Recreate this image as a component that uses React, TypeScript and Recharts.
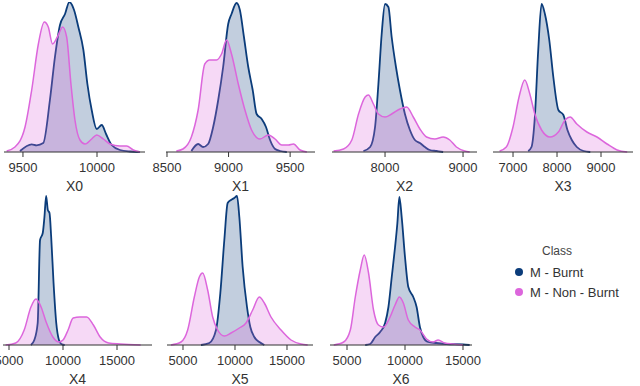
import { AreaChart, Area, XAxis, YAxis } from "recharts";

// density curves: [value, density]
const x0Burnt = [
  [9480, 1], [9559, 7.7], [9592, 6.7], [9637, 9], [9682, 52], [9716, 95], [9750, 127],
  [9784, 138], [9813, 150], [9845, 142], [9874, 125], [9908, 102], [9935, 68], [9964, 42],
  [9998, 23], [10032, 27], [10061, 18], [10099, 7], [10155, 2], [10223, 0.5], [10290, 0],
];
const x0NonBurnt = [
  [9390, 1], [9446, 5], [9514, 25], [9559, 62], [9604, 108], [9644, 130], [9671, 125],
  [9700, 108], [9732, 115], [9768, 125], [9795, 115], [9824, 68], [9851, 32], [9885, 12],
  [9919, 8], [9964, 13], [9998, 17], [10043, 13], [10088, 8], [10155, 6], [10200, 6],
  [10245, 2], [10290, 0],
];

const x1Burnt = [
  [8698, 1], [8753, 8], [8793, 5], [8834, 8], [8875, 25], [8916, 52], [8956, 85],
  [8997, 128], [9024, 138], [9065, 149], [9092, 142], [9125, 115], [9160, 85], [9196, 62],
  [9228, 38], [9269, 33], [9304, 25], [9337, 12], [9378, 3], [9418, 1], [9473, 0],
];
const x1NonBurnt = [
  [8576, 1], [8630, 3], [8698, 15], [8753, 42], [8807, 88], [8848, 92], [8902, 92],
  [8943, 98], [8984, 112], [9024, 98], [9079, 68], [9133, 42], [9187, 22], [9255, 13],
  [9323, 17], [9378, 13], [9432, 7], [9486, 7], [9527, 8], [9581, 2], [9636, 0],
];

const x2Burnt = [
  [7723, 1], [7809, 5], [7872, 25], [7915, 68], [7957, 118], [8000, 148], [8043, 145],
  [8085, 115], [8140, 85], [8191, 62], [8255, 38], [8319, 22], [8383, 12], [8447, 9],
  [8511, 5], [8574, 2], [8660, 1], [8745, 0],
];
const x2NonBurnt = [
  [7340, 1], [7468, 3], [7574, 12], [7660, 38], [7745, 55], [7787, 57], [7851, 48],
  [7915, 38], [8000, 35], [8085, 38], [8191, 43], [8277, 45], [8362, 35], [8447, 23],
  [8532, 15], [8638, 13], [8745, 15], [8830, 12], [8915, 5], [9021, 1], [9085, 0],
];

const x3Burnt = [
  [7344, 1], [7420, 5], [7496, 35], [7573, 102], [7649, 148], [7725, 138], [7824, 112],
  [7916, 75], [8031, 42], [8145, 37], [8237, 22], [8336, 12], [8450, 5], [8603, 1], [8756, 0],
];
const x3NonBurnt = [
  [6695, 1], [6847, 5], [7000, 25], [7137, 55], [7267, 72], [7382, 58], [7496, 38],
  [7649, 22], [7840, 15], [8031, 20], [8183, 32], [8298, 35], [8450, 28], [8679, 20],
  [8908, 15], [9137, 8], [9366, 2], [9595, 0],
];

const x4Burnt = [
  [7031, 0], [7344, 5], [7656, 22], [7875, 105], [8125, 112], [8281, 128], [8438, 149],
  [8594, 135], [8750, 132], [8906, 108], [9125, 62], [9375, 22], [9625, 5], [9844, 1], [10156, 0],
];
const x4NonBurnt = [
  [4688, 0], [5625, 2], [6406, 15], [7031, 38], [7500, 46], [7969, 38], [8438, 23],
  [9063, 8], [9625, 3], [10000, 5], [10469, 15], [10938, 27], [11563, 28], [12188, 28],
  [12813, 20], [13438, 8], [14219, 2], [15313, 1], [17188, 0],
];

const x5Burnt = [
  [6731, 0], [7532, 2], [8173, 15], [8590, 52], [8974, 105], [9295, 142], [9615, 145],
  [9936, 147], [10192, 149], [10417, 128], [10737, 78], [11154, 38], [11474, 18],
  [11859, 8], [12340, 3], [12820, 0],
];
const x5NonBurnt = [
  [3846, 0], [4808, 3], [5449, 15], [6090, 48], [6571, 68], [6891, 72], [7372, 55],
  [7853, 28], [8333, 15], [8974, 9], [9615, 12], [10417, 17], [11058, 22], [11699, 35],
  [12340, 48], [12820, 42], [13461, 28], [14423, 15], [15384, 5], [16346, 1], [16987, 0],
];

const x6Burnt = [
  [6572, 0], [7000, 1], [7429, 8], [7857, 13], [8286, 22], [8571, 38], [8857, 68],
  [9143, 98], [9343, 122], [9514, 148], [9714, 128], [10000, 88], [10286, 58], [10714, 48],
  [11000, 38], [11286, 18], [11571, 8], [12000, 3], [12714, 2], [13571, 1], [15000, 0.5], [15571, 0],
];
const x6NonBurnt = [
  [3857, 0], [4714, 3], [5286, 15], [5714, 48], [6143, 75], [6486, 90], [6857, 72],
  [7286, 35], [7714, 20], [8143, 18], [8714, 28], [9143, 40], [9514, 48], [9857, 42],
  [10286, 25], [10857, 18], [11286, 15], [11857, 6], [12429, 3], [12857, 5], [13429, 2],
  [14143, 1], [15000, 0],
];

const ticks0 = [9500, 10000];
const ticks1 = [8500, 9000, 9500];
const ticks2 = [8000, 9000];
const ticks3 = [7000, 8000, 9000];
const ticks456 = [5000, 10000, 15000];

const classes = ["M - Burnt", "M - Non - Burnt"];

const BLUE = "#0b3c7a";
const PINK = "#dc66dc";
const PAD = 20;

const panels = [
  { name: "X0", burnt: x0Burnt, non: x0NonBurnt, ticks: ticks0, domain: [9372, 10324], left: 4, right: 145, top: 2 },
  { name: "X1", burnt: x1Burnt, non: x1NonBurnt, ticks: ticks1, domain: [8492, 9702], left: 166, right: 315, top: 2 },
  { name: "X2", burnt: x2Burnt, non: x2NonBurnt, ticks: ticks2, domain: [7320, 9179], left: 332, right: 477, top: 2 },
  { name: "X3", burnt: x3Burnt, non: x3NonBurnt, ticks: ticks3, domain: [6545, 9727], left: 493, right: 633, top: 2 },
  { name: "X4", burnt: x4Burnt, non: x4NonBurnt, ticks: ticks456, domain: [4444, 18240], left: 3, right: 152, top: 195 },
  { name: "X5", burnt: x5Burnt, non: x5NonBurnt, ticks: ticks456, domain: [3462, 17500], left: 167, right: 313, top: 195 },
  { name: "X6", burnt: x6Burnt, non: x6NonBurnt, ticks: ticks456, domain: [3534, 15776], left: 330, right: 472, top: 195 },
];

// merge the two curves into one table keyed by x
function mergeRows(burnt: number[][], non: number[][]) {
  const rows: { x: number; burnt?: number; nonBurnt?: number }[] = [];
  burnt.forEach(([x, d]) => rows.push({ x, burnt: d }));
  non.forEach(([x, d]) => rows.push({ x, nonBurnt: d }));
  return rows.sort((a, b) => a.x - b.x);
}

const Panel = ({ p }: { p: (typeof panels)[number] }) => {
  const w = p.right - p.left;
  return (
    <div style={{ position: "absolute", left: p.left - PAD, top: p.top }}>
      <AreaChart
        width={w + PAD * 2}
        height={150 + 45}
        data={mergeRows(p.burnt, p.non)}
        margin={{ top: 0, right: PAD, bottom: 0, left: PAD }}
      >
        <XAxis
          dataKey="x"
          type="number"
          domain={p.domain}
          allowDataOverflow
          ticks={p.ticks}
          interval={0}
          height={45}
          tickSize={5}
          tickMargin={6}
          axisLine={{ stroke: "#333" }}
          tickLine={{ stroke: "#333" }}
          tick={{ fill: "#333", fontSize: 13 }}
          label={{ value: p.name, position: "insideBottom", offset: 6, fill: "#333", fontSize: 14 }}
        />
        <YAxis hide domain={[0, 150]} />
        <Area
          type="monotone"
          dataKey="burnt"
          connectNulls
          stroke={BLUE}
          strokeWidth={1.8}
          fill={BLUE}
          fillOpacity={0.25}
          isAnimationActive={false}
        />
        <Area
          type="monotone"
          dataKey="nonBurnt"
          connectNulls
          stroke={PINK}
          strokeWidth={1.5}
          fill={PINK}
          fillOpacity={0.25}
          isAnimationActive={false}
        />
      </AreaChart>
    </div>
  );
};

export default function App() {
  return (
    <div
      style={{
        position: "absolute",
        left: 0,
        top: 0,
        width: 640,
        height: 386,
        overflow: "hidden",
        background: "#fff",
        fontFamily: "'Liberation Sans', Arial, sans-serif",
      }}
    >
      {panels.map((p) => (
        <Panel key={p.name} p={p} />
      ))}

      {/* legend */}
      <div style={{ position: "absolute", left: 512, top: 244, color: "#333" }}>
        <div style={{ fontSize: 12, color: "#444", marginLeft: 30, marginBottom: 4 }}>Class</div>
        {classes.map((c, i) => (
          <div key={c} style={{ display: "flex", alignItems: "center", height: 20, fontSize: 13 }}>
            <span
              style={{
                display: "inline-block",
                width: 8,
                height: 8,
                borderRadius: 4,
                background: i === 0 ? BLUE : PINK,
                marginLeft: 3,
                marginRight: 7,
              }}
            />
            {c}
          </div>
        ))}
      </div>
    </div>
  );
}
